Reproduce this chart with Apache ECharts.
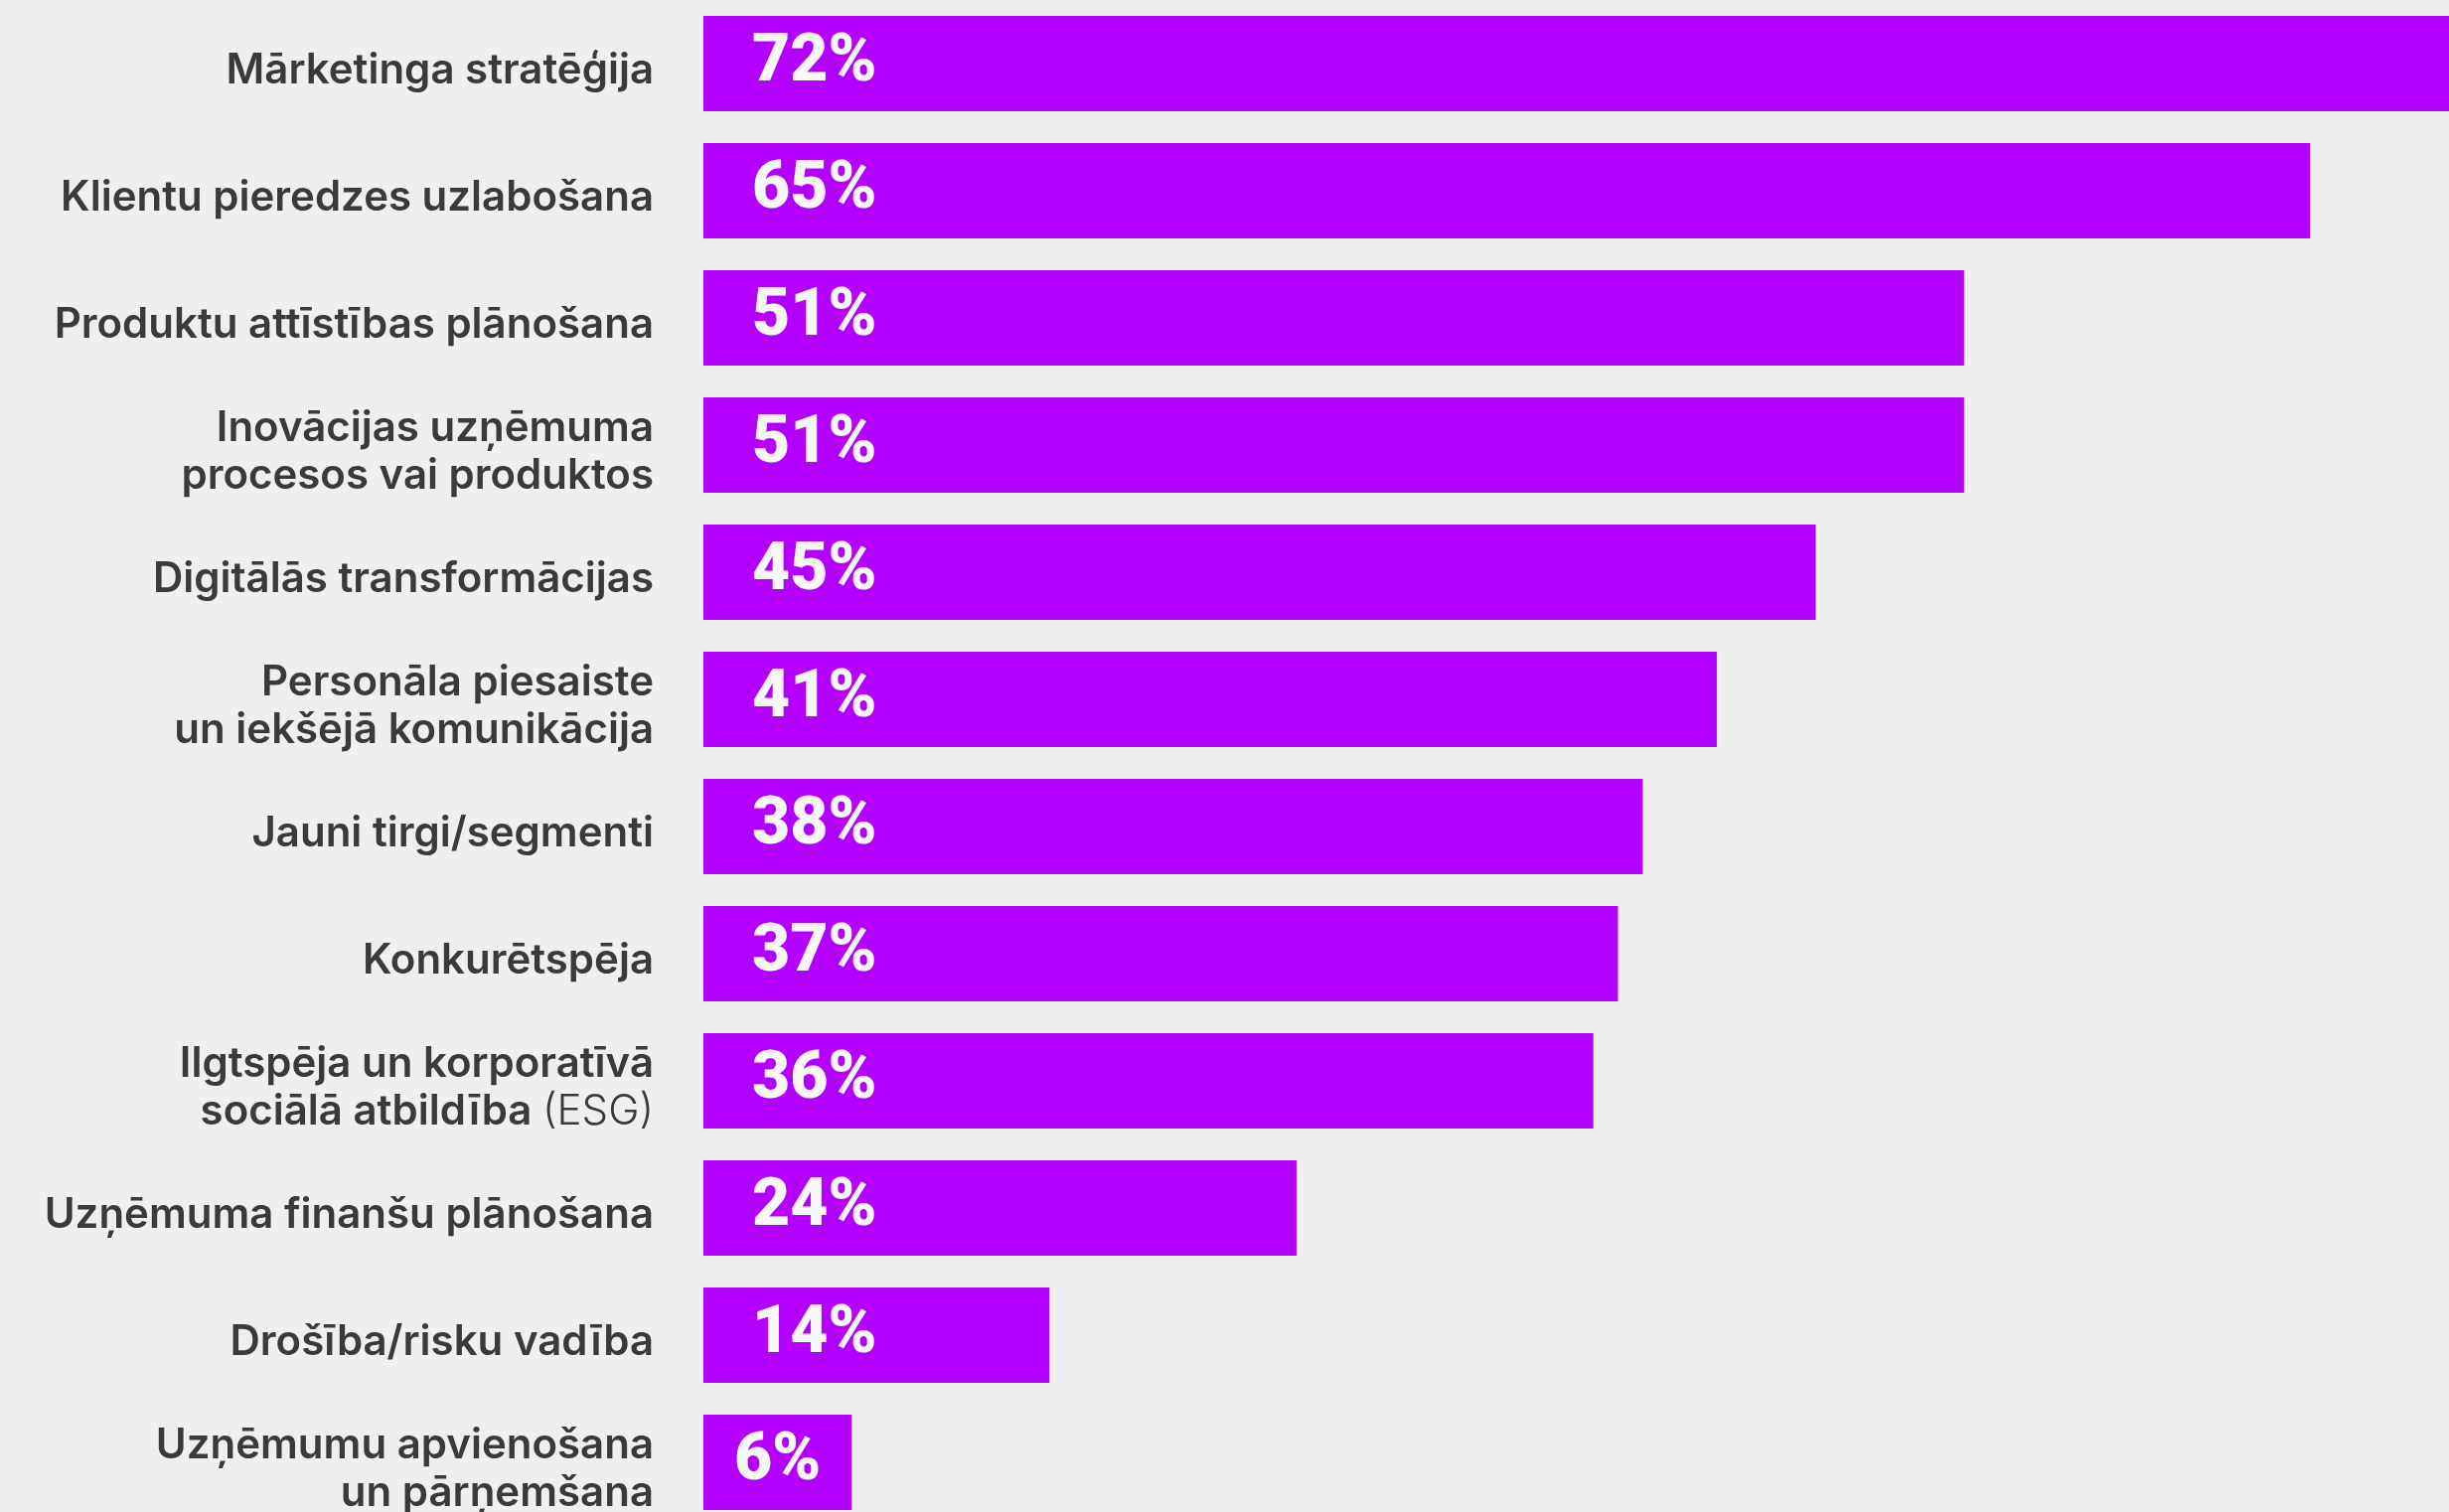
<!DOCTYPE html>
<html>
<head>
<meta charset="utf-8">
<style>
html,body{margin:0;padding:0;background:#efefef;}
#c{width:2465px;height:1522px;}
</style>
<script src="https://cdn.jsdelivr.net/npm/echarts@6/dist/echarts.min.js"></script>
</head>
<body>
<div id="c"></div>
<script>
const categories = [
  "Mārketinga stratēģija",
  "Klientu pieredzes uzlabošana",
  "Produktu attīstības plānošana",
  "Inovācijas uzņēmuma\nprocesos vai produktos",
  "Digitālās transformācijas",
  "Personāla piesaiste\nun iekšējā komunikācija",
  "Jauni tirgi/segmenti",
  "Konkurētspēja",
  "Ilgtspēja un korporatīvā\nsociālā atbildība (ESG)",
  "Uzņēmuma finanšu plānošana",
  "Drošība/risku vadība",
  "Uzņēmumu apvienošana\nun pārņemšana"
];
const values = [72, 65, 51, 51, 45, 41, 38, 37, 36, 24, 14, 6];

const chart = echarts.init(document.getElementById('c'), null, {renderer: 'canvas'});
const seriesData = values.map(function (v) {
  const item = {value: v};
  if (v < 10) {
    item.label = {position: 'inside'};
  }
  return item;
});
chart.setOption({
  backgroundColor: '#efefef',
  animation: false,
  grid: {left: 708, top: 0, width: 2488, height: 1536, containLabel: false, outerBoundsMode: 'none'},
  xAxis: {
    type: 'value', min: 0, max: 100, show: false
  },
  yAxis: {
    type: 'category', data: categories, inverse: true,
    axisLine: {show: false}, axisTick: {show: false}, splitLine: {show: false},
    axisLabel: {
      margin: 50,
      align: 'right',
      color: '#3a3a3a',
      fontFamily: 'Inter',
      fontWeight: 600,
      fontSize: 42,
      lineHeight: 48,
      padding: [14, 0, 0, 0],
      formatter: function (s) {
        return s.replace('(ESG)', '{light|(ESG)}');
      },
      rich: {
        light: {fontFamily: 'Inter', fontWeight: 300, fontSize: 42, color: '#3a3a3a', lineHeight: 48}
      }
    }
  },
  series: [{
    type: 'bar',
    data: seriesData,
    barWidth: 96,
    clip: true,
    itemStyle: {color: '#b300ff'},
    label: {
      show: true,
      position: 'insideLeft',
      distance: 49,
      formatter: '{c}%',
      color: '#f8f8f8',
      fontFamily: 'Roboto',
      fontWeight: 900,
      fontSize: 66,
      padding: [6, 0, 0, 0]
    }
  }]
});
</script>
</body>
</html>
